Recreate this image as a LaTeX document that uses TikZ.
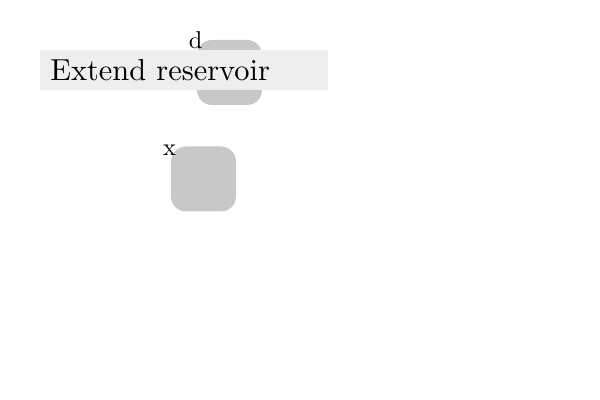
\documentclass[tikz,border=0pt]{standalone}
\usepackage{graphicx}
\usetikzlibrary{positioning}

\definecolor{cellgray}{RGB}{200,200,200}
\definecolor{bargray}{RGB}{238,238,238}

\tikzset{
  cell/.style={fill=cellgray, rounded corners=7.5pt, minimum width=32.5pt, minimum height=32.5pt, inner sep=0pt},
  cellname/.style={anchor=base, font=\fontsize{10}{12}\selectfont},
  bar/.style={fill=bargray, anchor=north west, minimum height=20pt, text width=134pt, align=left, inner xsep=5pt, font=\fontsize{10}{12}\selectfont}
}

\begin{document}
\begin{tikzpicture}[x=0.5pt, y=-0.5pt]

\useasboundingbox (0,0) rectangle (600,400);

\node[cell] (d) at (229.5,72.5) {};
\node[cell] (x) at (203.5,179) {};

\node[bar] (title) at (40,50) {\scalebox{1.52}{Extend reservoir}};

\node[cellname] (dname) at ([xshift=-0.5pt, yshift=-4.5pt]d.north west) {\scalebox{1.22}{d}};
\node[cellname] (xname) at ([xshift=-0.5pt, yshift=-4.5pt]x.north west) {\scalebox{1.22}{x}};

\end{tikzpicture}
\end{document}
